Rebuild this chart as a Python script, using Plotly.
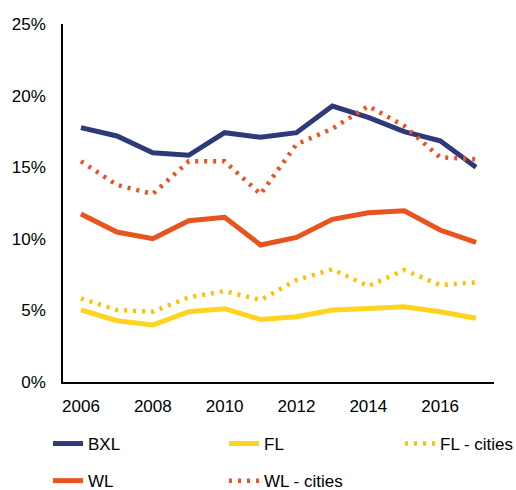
import plotly.graph_objects as go

years = [2006, 2007, 2008, 2009, 2010, 2011, 2012, 2013, 2014, 2015, 2016, 2017]
bxl = [17.76, 17.18, 16.01, 15.83, 17.41, 17.09, 17.41, 19.27, 18.48, 17.48, 16.85, 14.99]
fl = [5.03, 4.28, 3.98, 4.91, 5.12, 4.37, 4.56, 5.03, 5.14, 5.26, 4.91, 4.45]
fl_cities = [5.84, 5.03, 4.91, 5.91, 6.35, 5.73, 7.12, 7.87, 6.70, 7.82, 6.77, 6.96]
wl = [11.73, 10.47, 10.01, 11.26, 11.50, 9.57, 10.10, 11.36, 11.82, 11.96, 10.61, 9.75]
wl_cities = [15.41, 13.76, 13.13, 15.41, 15.41, 13.12, 16.60, 17.69, 19.27, 17.88, 15.69, 15.55]

y_ticks = [0, 5, 10, 15, 20, 25]
y_tick_labels = ["0%", "5%", "10%", "15%", "20%", "25%"]
x_ticks = [2006, 2008, 2010, 2012, 2014, 2016]

series = [
    ("BXL", bxl, "#2E3A78", "solid", "legend"),
    ("FL", fl, "#FFD320", "solid", "legend2"),
    ("FL - cities", fl_cities, "#FFC000", "3px,6px", "legend3"),
    ("WL", wl, "#E8531E", "solid", "legend"),
    ("WL - cities", wl_cities, "#E8531E", "3px,6px", "legend2"),
]

fig = go.Figure()
for name, vals, color, dash, leg in series:
    fig.add_trace(go.Scatter(
        x=years, y=vals, name=name, mode="lines", legend=leg, legendgroup=name,
        line=dict(color=color, width=5 if dash == "solid" else 4.5, dash=dash),
    ))

L, R, T, B = 63, 22, 24, 108
W, H = 516, 490
pw = W - L - R
ph = H - T - B

def px_x(x):
    return (x - L) / pw

def px_y(y):
    return (H - B - y) / ph

leg_common = dict(
    orientation="v", xanchor="left", yanchor="top", y=px_y(426),
    font=dict(size=17), tracegroupgap=12, itemwidth=30, traceorder="grouped",
    bgcolor="rgba(0,0,0,0)",
)

fig.update_layout(
    width=W, height=H,
    margin=dict(l=L, r=R, t=T, b=B, autoexpand=False),
    paper_bgcolor="white", plot_bgcolor="white",
    font=dict(family="Liberation Sans, Arial, sans-serif", size=17, color="#000"),
    showlegend=True,
    legend=dict(x=px_x(48), **leg_common),
    legend2=dict(x=px_x(224), **leg_common),
    legend3=dict(x=px_x(400), **leg_common),
    xaxis=dict(
        range=[2005.5, 2017.5], tickvals=x_ticks, showgrid=False, zeroline=False,
        showline=True, linecolor="#000", linewidth=1.5, ticks="", ticklabelstandoff=8,
    ),
    yaxis=dict(
        range=[0, 25], tickvals=y_ticks, ticktext=y_tick_labels,
        showgrid=False, zeroline=False, showline=True, linecolor="#000", linewidth=1.5,
        ticks="", ticklabelstandoff=12,
    ),
)

fig.write_html(
    "out.html",
    config={"displayModeBar": False},
    post_script="document.body.style.margin='0';document.body.style.padding='0';",
)
